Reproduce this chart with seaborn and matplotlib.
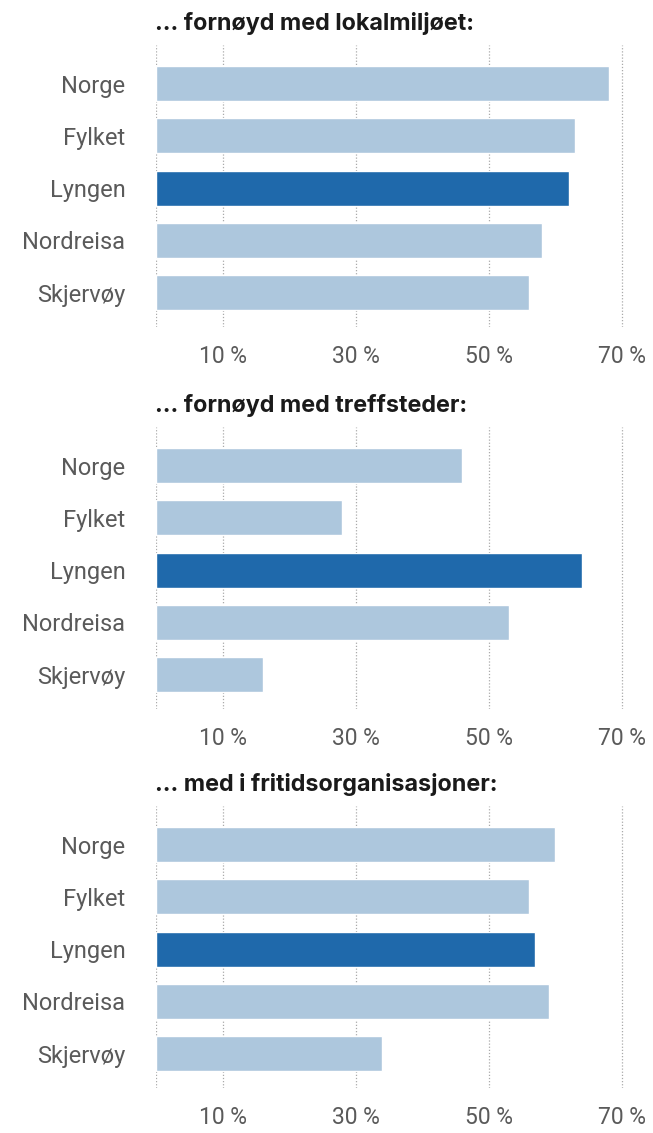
import pandas as pd
import matplotlib.pyplot as plt
import seaborn as sns

regions = ['Norge', 'Fylket', 'Lyngen', 'Nordreisa', 'Skjervøy']
highlight = 'Lyngen'

titles = ['… fornøyd med lokalmiljøet:',
          '… fornøyd med treffsteder:',
          '… med i fritidsorganisasjoner:']
lokalmiljo = [68, 63, 62, 58, 56]
treffsteder = [46, 28, 64, 53, 16]
fritid = [60, 56, 57, 59, 34]

grid_ticks = [0, 10, 30, 50, 70]
tick_labels = ['', '10 %', '30 %', '50 %', '70 %']

light = '#adc7dd'
dark = '#1f69ab'


def draw_panel(ax, values, title):
    """One horizontal bar panel."""
    df = pd.DataFrame({'region': regions, 'value': values})
    palette = {r: (dark if r == highlight else light) for r in regions}
    sns.barplot(data=df, x='value', y='region', hue='region', palette=palette,
                legend=False, width=0.67, saturation=1, ax=ax, zorder=2)
    ax.set_xlim(0, 70.3)
    ax.set_ylim(4.66, -0.74)
    ax.set_xticks(grid_ticks)
    ax.set_xticklabels(tick_labels)
    ax.grid(axis='x', linestyle=(0, (1, 1.5)), color='#aaaaaa', linewidth=0.9, zorder=0)
    ax.grid(axis='y', visible=False)
    for s in ax.spines.values():
        s.set_visible(False)
    ax.tick_params(axis='both', length=0, colors='#5a5a5a')
    ax.tick_params(axis='y', labelsize=17, pad=22)
    ax.tick_params(axis='x', labelsize=16.5, pad=13)
    ax.set_xlabel('')
    ax.set_ylabel('')
    ax.set_title(title, loc='left', x=-0.002, fontsize=16.8, fontweight='bold',
                 color='#1a1a1a', pad=11, family=['Inter', 'DejaVu Sans'])


sns.set_style('white')
plt.rcParams['font.family'] = ['Roboto', 'DejaVu Sans']

fig = plt.figure(figsize=(6.53, 11.33), dpi=100)
W, H = 653, 1133
left, right = 156, 624
tops = [45, 427, 806]
height = 282
data = [lokalmiljo, treffsteder, fritid]
for top, vals, title in zip(tops, data, titles):
    ax = fig.add_axes([left / W, 1 - (top + height) / H, (right - left) / W, height / H])
    draw_panel(ax, vals, title)

fig.savefig('out.png', dpi=100)
